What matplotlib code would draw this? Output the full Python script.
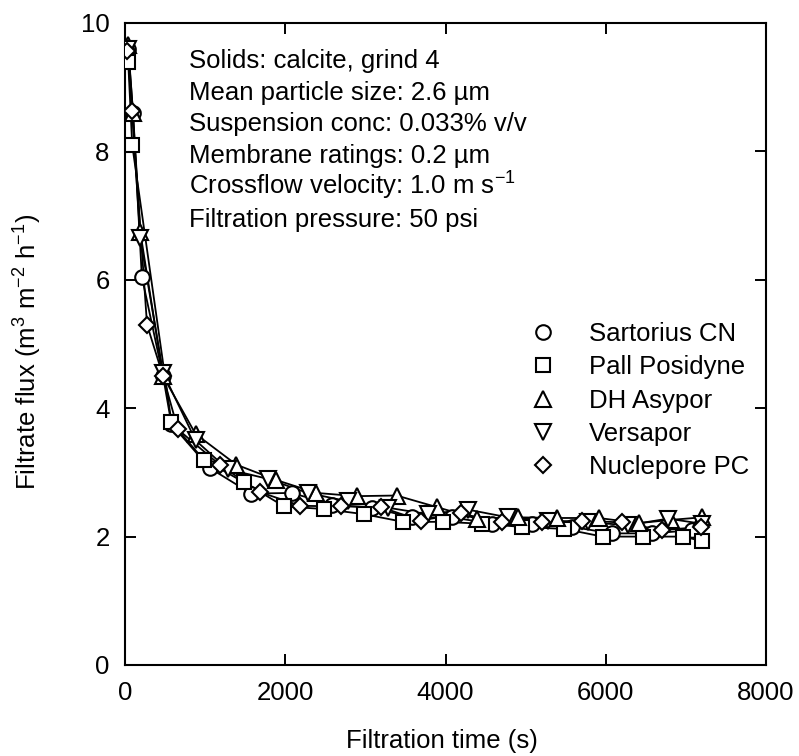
import matplotlib
matplotlib.use("Agg")
import matplotlib.pyplot as plt

plt.rcParams['font.family'] = ['Liberation Sans', 'DejaVu Sans']
plt.rcParams['mathtext.fontset'] = 'custom'
plt.rcParams['mathtext.rm'] = 'Liberation Sans'
plt.rcParams['mathtext.default'] = 'regular'

# filtration time (s) and filtrate flux (m3 m-2 h-1)
t_sart = [40, 100, 210, 475, 580, 1055, 1575, 2080, 2580, 3080, 3580, 4080, 4580, 5080, 5580, 6080, 6580, 7080]
f_sart = [9.6, 8.6, 6.05, 4.5, 3.75, 3.07, 2.67, 2.68, 2.5, 2.45, 2.3, 2.3, 2.2, 2.2, 2.15, 2.05, 2.05, 2.1]

t_pall = [40, 90, 580, 980, 1480, 1985, 2480, 2980, 3470, 3970, 4460, 4960, 5480, 5960, 6470, 6970, 7200]
f_pall = [9.4, 8.1, 3.78, 3.2, 2.85, 2.47, 2.43, 2.35, 2.23, 2.23, 2.2, 2.15, 2.12, 2.0, 2.0, 2.0, 1.93]

t_dh = [40, 100, 190, 475, 880, 1390, 1890, 2390, 2890, 3390, 3890, 4390, 4910, 5390, 5910, 6410, 6810, 7200]
f_dh = [9.65, 8.6, 6.75, 4.5, 3.6, 3.12, 2.88, 2.68, 2.63, 2.64, 2.46, 2.28, 2.3, 2.29, 2.29, 2.21, 2.26, 2.3]

t_vers = [40, 190, 475, 880, 1280, 1780, 2280, 2780, 3280, 3780, 4280, 4780, 5280, 5780, 6280, 6780, 7200]
f_vers = [9.6, 6.65, 4.55, 3.5, 3.05, 2.9, 2.68, 2.55, 2.45, 2.35, 2.42, 2.3, 2.25, 2.22, 2.18, 2.28, 2.2]

t_nucl = [30, 90, 275, 475, 660, 1190, 1690, 2190, 2690, 3190, 3690, 4190, 4700, 5200, 5700, 6200, 6700, 7190]
f_nucl = [9.56, 8.63, 5.3, 4.5, 3.67, 3.11, 2.69, 2.48, 2.47, 2.46, 2.25, 2.36, 2.22, 2.22, 2.25, 2.22, 2.1, 2.15]

labels = ["Sartorius CN", "Pall Posidyne", "DH Asypor", "Versapor", "Nuclepore PC"]
notes = ["Solids: calcite, grind 4",
         "Mean particle size: 2.6 \u00b5m",
         "Suspension conc: 0.033% v/v",
         "Membrane ratings: 0.2 \u00b5m",
         "Crossflow velocity: 1.0 m s$^{-1}$",
         "Filtration pressure: 50 psi"]

fs = 18.5

fig = plt.figure(figsize=(7.99, 7.56), dpi=100)
ax = fig.add_axes([125/799, 91/756, 641/799, 642/756])

series = [(t_sart, f_sart, 'o', 10.5), (t_pall, f_pall, 's', 10),
          (t_dh, f_dh, '^', 11), (t_vers, f_vers, 'v', 11),
          (t_nucl, f_nucl, 'D', 8.2)]
# lines first, markers on top
for t, f, m, ms in series:
    ax.plot(t, f, color='black', lw=1.3, zorder=2)
for (t, f, m, ms), lab in zip(series, labels):
    ax.plot(t, f, ls='none', marker=m, ms=ms, mfc='white', mec='black', mew=1.5, label=lab, zorder=3)

ax.set_xlim(0, 8000)
ax.set_ylim(0, 10)
ax.set_xticks([0, 2000, 4000, 6000, 8000])
ax.set_yticks([0, 2, 4, 6, 8, 10])
ax.tick_params(direction='in', top=True, right=True, length=8, width=1.4, labelsize=fs)
ax.tick_params(axis='x', pad=11.5)
ax.tick_params(axis='y', pad=11)
for s in ax.spines.values():
    s.set_linewidth(1.5)

ax.set_xlabel("Filtration time (s)", fontsize=fs)
ax.set_ylabel("Filtrate flux (m$^3$ m$^{-2}$ h$^{-1}$)", fontsize=fs)
ax.xaxis.set_label_coords(0.494, -0.099)
ax.yaxis.set_label_coords(-0.127, 0.488)

for i, s in enumerate(notes):
    ax.text(0.0998, 0.930 - i*0.0495, s, transform=ax.transAxes, fontsize=fs, va='baseline', ha='left')

ax.legend(loc='upper left', bbox_to_anchor=(0.632, 0.534), frameon=False, fontsize=fs,
          numpoints=1, handlelength=1.0, handletextpad=1.3, labelspacing=0.36, borderpad=0, borderaxespad=0)

fig.savefig("out.png", dpi=100)
